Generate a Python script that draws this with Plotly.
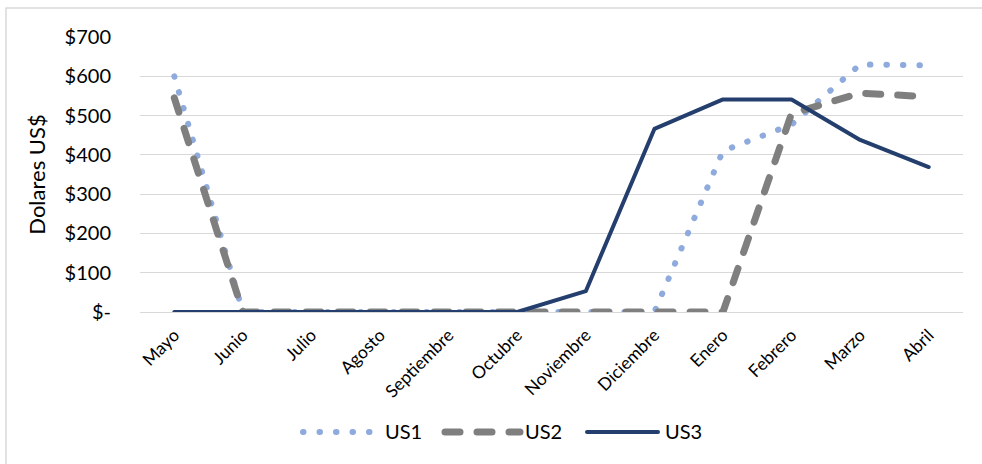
import plotly.graph_objects as go

# ---- data -------------------------------------------------------------
months = ["Mayo", "Junio", "Julio", "Agosto", "Septiembre", "Octubre",
          "Noviembre", "Diciembre", "Enero", "Febrero", "Marzo", "Abril"]
us1 = [600, 0, 0, 0, 0, 0, 0, 0, 410, 477, 630, 628]
us2 = [545, 0, 0, 0, 0, 0, 0, 0, 0, 505, 557, 548]
us3 = [0, 0, 0, 0, 0, 0, 53, 466, 541, 541, 438, 369]

y_tick_values = [0, 100, 200, 300, 400, 500, 600, 700]
y_tick_labels = ["$-", "$100", "$200", "$300", "$400", "$500", "$600", "$700"]

series_names = ["US1", "US2", "US3"]

# ---- styling ----------------------------------------------------------
W, H = 982, 464
ML, MR, MT, MB = 140, 19, 37, 152
PW, PH = W - ML - MR, H - MT - MB
FONT = "Lato, 'Open Sans', sans-serif"
GRID = "#d9d9d9"

styles = {
    "US1": dict(color="#8faadc", width=6, dash="0.5px,16px"),
    "US2": dict(color="#7f7f7f", width=7, dash="15px,17px"),
    "US3": dict(color="#243f6e", width=4, dash="solid"),
}


def px_x(px):
    return (px - ML) / PW


def px_y(py):
    return (MT + PH - py) / PH


fig = go.Figure()
for name, values in zip(series_names, [us1, us2, us3]):
    fig.add_trace(go.Scatter(
        x=months, y=values, name=name, mode="lines",
        line=styles[name], showlegend=False,
    ))

# ---- hand-built legend below the chart -------------------------------
legend_y = px_y(432)
legend_items = [("US1", 303, 376, 383), ("US2", 445, 520, 523), ("US3", 587, 658, 663)]
shapes = []
annotations = []
for name, x0, x1, tx in legend_items:
    st = styles[name]
    shapes.append(dict(
        type="line", xref="paper", yref="paper",
        x0=px_x(x0), x1=px_x(x1), y0=legend_y, y1=legend_y,
        line=dict(color=st["color"], width=st["width"], dash=st["dash"]),
    ))
    annotations.append(dict(
        text=name, xref="paper", yref="paper", x=px_x(tx), y=px_y(431),
        xanchor="left", yanchor="middle", showarrow=False,
        font=dict(family=FONT, size=20, color="#000000"),
    ))

# chart-area frame
shapes.append(dict(
    type="rect", xref="paper", yref="paper", layer="below",
    x0=px_x(6), x1=px_x(W + 10), y0=px_y(8), y1=px_y(H + 10),
    line=dict(color=GRID, width=1.5), fillcolor="rgba(0,0,0,0)",
))

fig.update_layout(
    width=W, height=H,
    margin=dict(l=ML, r=MR, t=MT, b=MB, pad=0),
    paper_bgcolor="white", plot_bgcolor="white",
    font=dict(family=FONT, color="#000000"),
    showlegend=False,
    shapes=shapes,
    annotations=annotations,
)

fig.update_xaxes(
    type="category", range=[-0.5, len(months) - 0.5],
    showgrid=False, zeroline=False,
    showline=True, linecolor=GRID, linewidth=1.3,
    ticks="", tickangle=-45, ticklabelstandoff=5,
    tickfont=dict(family=FONT, size=17.5, color="#000000"),
)

fig.update_yaxes(
    range=[0, 700],
    tickvals=y_tick_values, ticktext=y_tick_labels,
    showgrid=True, gridcolor=GRID, gridwidth=1.3,
    zeroline=False, showline=False,
    ticks="", ticklabelstandoff=28,
    tickfont=dict(family=FONT, size=20, color="#000000"),
    title=dict(text="Dolares US$", standoff=12,
               font=dict(family=FONT, size=22, color="#000000")),
)

# round caps so the dotted and dashed strokes come out as pills and dots
post = """
var gd = document.getElementById('{plot_id}');
function roundCaps(){
  gd.querySelectorAll('path.js-line, .shapelayer path').forEach(function(p){
    p.style.strokeLinecap = 'round';
    p.style.strokeLinejoin = 'round';
  });
}
roundCaps();
gd.on('plotly_afterplot', roundCaps);
"""

fig.write_html("out.html", post_script=post)
